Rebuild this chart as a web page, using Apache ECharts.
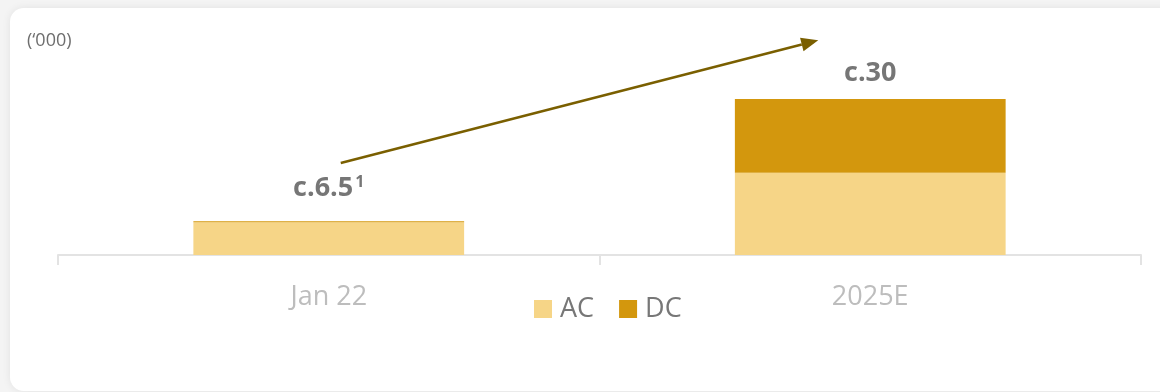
<!DOCTYPE html>
<html>
<head>
<meta charset="utf-8">
<script src="https://cdn.jsdelivr.net/npm/echarts@6/dist/echarts.min.js"></script>
<style>
  html, body { margin: 0; padding: 0; background: #f4f4f4; }
  #chart { width: 1160px; height: 392px; }
</style>
</head>
<body>
<div id="chart"></div>
<script>
const categories = ['Jan 22', '2025E'];
const acValues = [6.3, 15.8];
const dcValues = [0.2, 14.2];
const totalLabels = ['c.6.5', 'c.30'];
const labelNotes = ['1', ''];
const unitLabel = '(‘000)';

const FONT = '"Open Sans", Lato, sans-serif';
const chart = echarts.init(document.getElementById('chart'));

const labelDistances = [18, 12];

const option = {
  backgroundColor: 'transparent',
  animation: false,
  graphic: [
    {
      type: 'rect', z: -10, silent: true,
      shape: { x: 10, y: 8, width: 1180, height: 383, r: 14 },
      style: { fill: '#ffffff', shadowBlur: 8, shadowColor: 'rgba(0,0,0,0.08)', shadowOffsetX: 0, shadowOffsetY: 0 }
    },
    {
      type: 'text', left: 27, top: 32,
      style: { text: unitLabel, fontFamily: FONT, fontSize: 18, fill: '#6e6e6e' }
    }
  ],
  grid: { left: 58, right: 19, top: 47, bottom: 137 },
  legend: {
    data: ['AC', 'DC'],
    left: 529, top: 286,
    itemWidth: 18, itemHeight: 18, itemGap: 25,
    icon: 'rect',
    textStyle: { fontFamily: FONT, fontSize: 27, color: '#777777', lineHeight: 36, padding: [0, 0, 0, 3] },
    selectedMode: false
  },
  xAxis: {
    type: 'category',
    data: categories,
    axisLine: { show: true, lineStyle: { color: '#e3e3e3', width: 2 } },
    axisTick: { show: true, length: 10, lineStyle: { color: '#e3e3e3', width: 2 } },
    axisLabel: { fontFamily: FONT, fontSize: 27, color: '#bdbdbd', margin: 29 }
  },
  yAxis: {
    type: 'value', min: 0, max: 40, interval: 10,
    show: false,
    splitLine: { show: false }
  },
  series: [
    {
      name: 'AC', type: 'bar', stack: 'total',
      data: acValues,
      barWidth: '50%',
      itemStyle: { color: '#F6D587' }
    },
    {
      name: 'DC', type: 'bar', stack: 'total',
      data: dcValues.map((v, i) => ({
        value: v,
        label: { distance: labelDistances[i] }
      })),
      barWidth: '50%',
      itemStyle: { color: '#D3970D' },
      label: {
        show: true, position: 'top',
        formatter: p => totalLabels[p.dataIndex] + (labelNotes[p.dataIndex] ? '{sup|' + labelNotes[p.dataIndex] + '}' : ''),
        fontFamily: FONT, fontSize: 27, fontWeight: 'bold', color: '#767676',
        rich: {
          sup: { fontFamily: FONT, fontSize: 16, fontWeight: 'bold', color: '#767676', verticalAlign: 'top', padding: [0, 0, 13, 2] }
        }
      }
    }
  ]
};
chart.setOption(option);

// Growth arrow, anchored to the category positions
const p0 = chart.convertToPixel({ gridIndex: 0 }, [0, 17.7]);
const p1 = chart.convertToPixel({ gridIndex: 0 }, [1, 41.3]);
const x0 = p0[0] + 12, y0 = p0[1];
const x1 = p1[0] - 52, y1 = p1[1];
const ang = Math.atan2(y1 - y0, x1 - x0);
const headLen = 17, headW = 7;
const bx = x1 - headLen * Math.cos(ang), by = y1 - headLen * Math.sin(ang);
const nx = -Math.sin(ang), ny = Math.cos(ang);
chart.setOption({
  graphic: option.graphic.concat([
    {
      type: 'line', silent: true,
      shape: { x1: x0, y1: y0, x2: bx, y2: by },
      style: { stroke: '#7A5F00', lineWidth: 2.5 }
    },
    {
      type: 'polygon', silent: true,
      shape: { points: [[x1, y1], [bx + nx * headW, by + ny * headW], [bx - nx * headW, by - ny * headW]] },
      style: { fill: '#7A5F00' }
    }
  ])
});
</script>
</body>
</html>
